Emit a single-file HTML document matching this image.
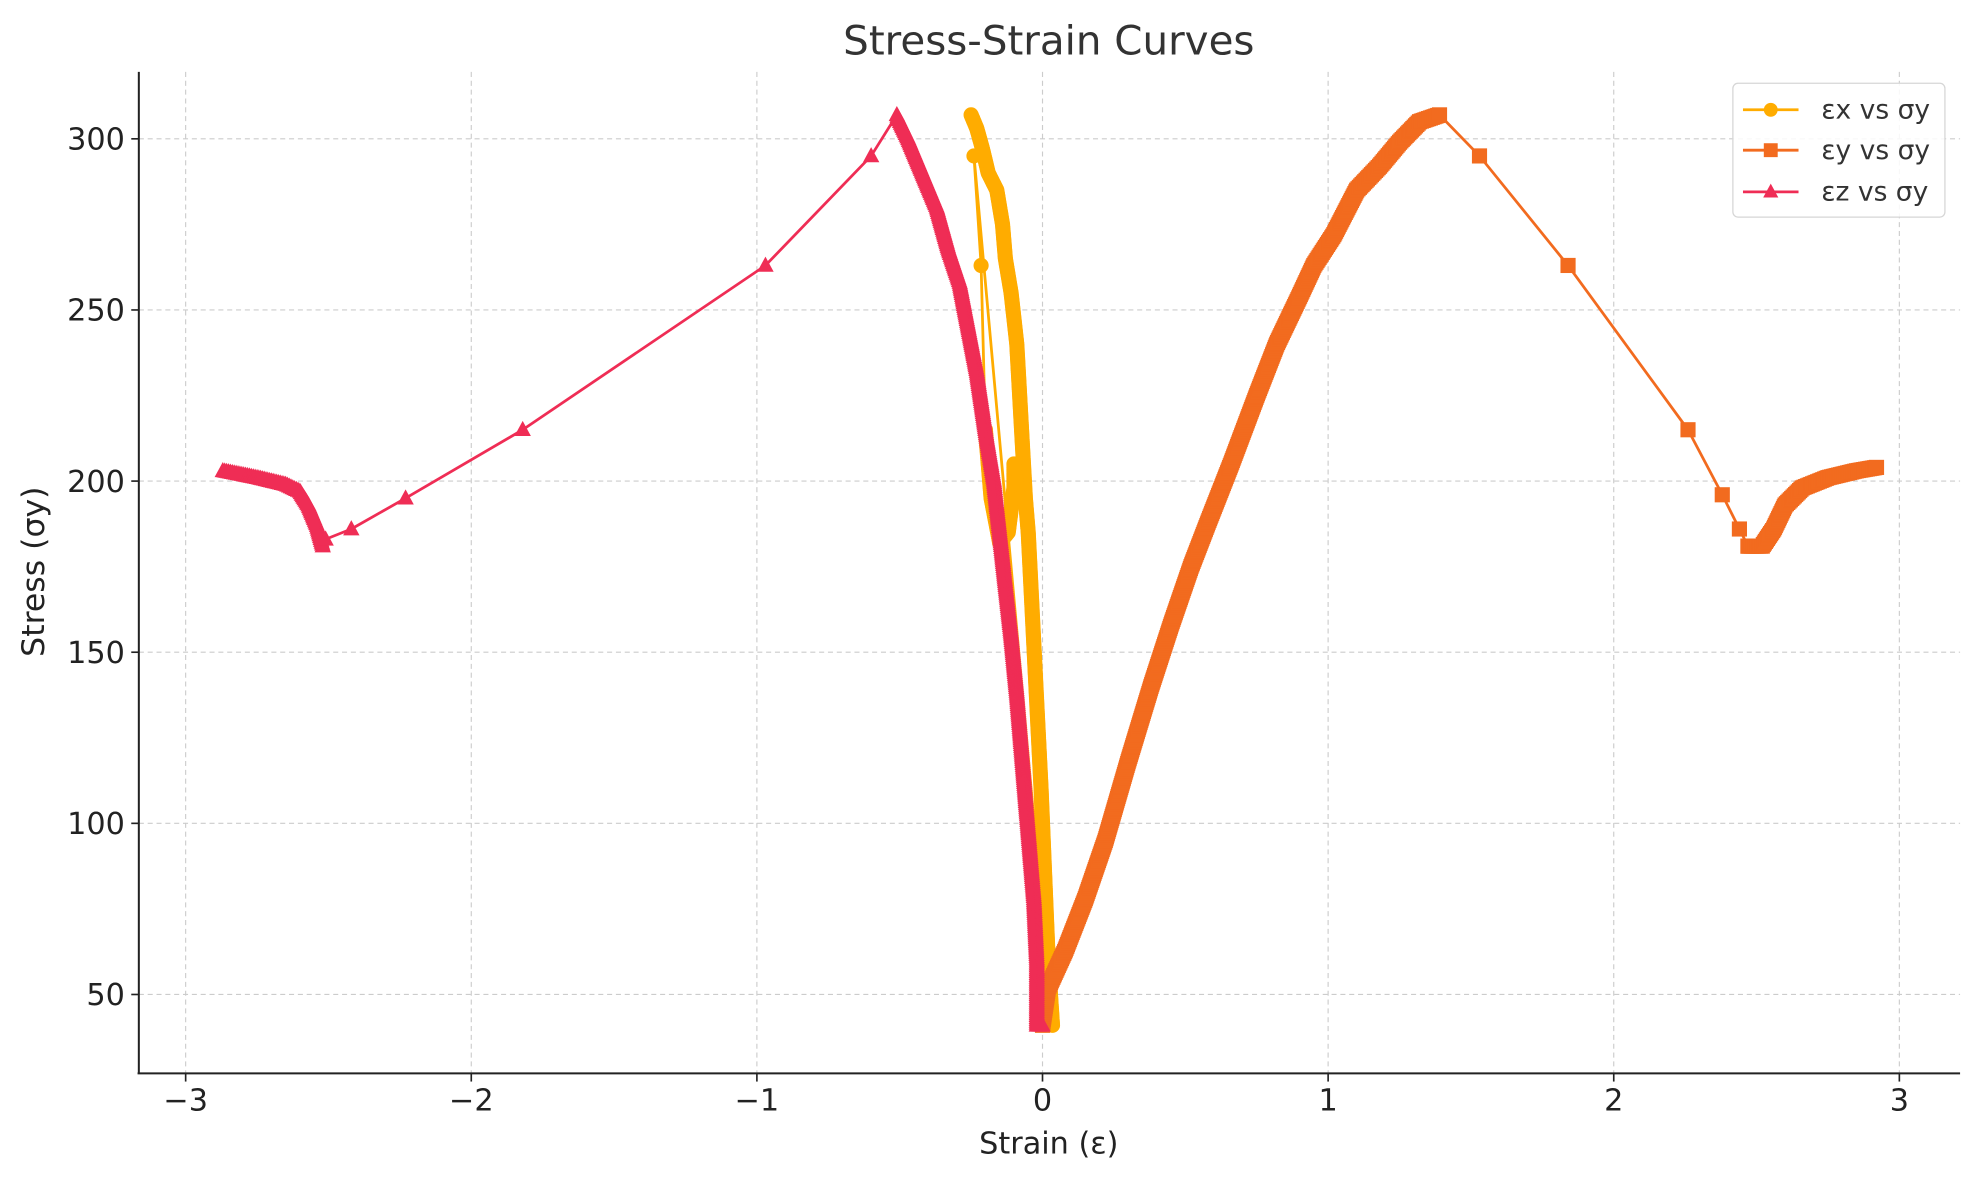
<!DOCTYPE html>
<html><head><meta charset="utf-8"><style>
html,body{margin:0;padding:0;background:#fff;}
svg{display:block;font-family:"DejaVu Sans","Liberation Sans",sans-serif;}
</style></head><body>
<svg id="s" width="1979" height="1180" viewBox="0 0 1568 935" preserveAspectRatio="none" xmlns="http://www.w3.org/2000/svg">
<rect width="1568" height="935" fill="#fff"/>
<g id="grid" stroke="#cccccc" stroke-width="0.9" stroke-dasharray="4,3"></g>
<g id="data"></g>
<g stroke="#222" stroke-width="1.6" fill="none">
<line x1="110" y1="57" x2="110" y2="851"/>
<line x1="109" y1="850.5" x2="1553" y2="850.5"/>
</g>
<g id="ticks" stroke="#222" stroke-width="1.3"></g>
<g id="labels" font-size="24" fill="#222"></g>
<text x="831" y="43" font-size="32" text-anchor="middle" fill="#333">Stress-Strain Curves</text>
<text x="831" y="914" font-size="24" text-anchor="middle" fill="#222">Strain (ε)</text>
<text transform="translate(35,453) rotate(-90)" font-size="25" text-anchor="middle" fill="#222">Stress (σy)</text>
<g id="legend">
<rect x="1373" y="66" width="168" height="106" rx="4" fill="#fff" fill-opacity="0.85" stroke="#d6d6d6"/>
</g>
</svg>
<script>
const NS="http://www.w3.org/2000/svg";
function el(p,t,a){const e=document.createElementNS(NS,t);for(const k in a)e.setAttribute(k,a[k]);p.appendChild(e);return e;}
const X=e=>826+e*226.3, Y=s=>110+(300-s)*2.712;
const grid=document.getElementById('grid'),ticks=document.getElementById('ticks'),labels=document.getElementById('labels');
for(let i=-3;i<=3;i++){const x=X(i);el(grid,'line',{x1:x,y1:57,x2:x,y2:850});el(ticks,'line',{x1:x,y1:851,x2:x,y2:857});
 const t=el(labels,'text',{x:x,y:880,'text-anchor':'middle'});t.textContent=(i<0?'\u2212'+(-i):''+i);}
for(let v=50;v<=300;v+=50){const y=Y(v);el(grid,'line',{x1:110,y1:y,x2:1553,y2:y});el(ticks,'line',{x1:104,y1:y,x2:110,y2:y});
 const t=el(labels,'text',{x:99,y:y+8.5,'text-anchor':'end'});t.textContent=v;}
const data=document.getElementById('data');
function densify(pts,step){const out=[];for(let i=0;i<pts.length-1;i++){const [x1,y1]=pts[i],[x2,y2]=pts[i+1];const a=[X(x1),Y(y1)],b=[X(x2),Y(y2)];const d=Math.hypot(b[0]-a[0],b[1]-a[1]);const n=Math.max(1,Math.round(d/step));for(let j=0;j<n;j++){const t=j/n;out.push([a[0]+(b[0]-a[0])*t,a[1]+(b[1]-a[1])*t]);}}const l=pts[pts.length-1];out.push([X(l[0]),Y(l[1])]);return out;}
function marker(g,type,x,y,c,r){r=r||5.5;
 if(type==='o')el(g,'circle',{cx:x,cy:y,r:r,fill:c});
 else if(type==='s')el(g,'rect',{x:x-r,y:y-r,width:2*r,height:2*r,fill:c});
 else el(g,'polygon',{points:`${x},${y-r-1} ${x-r-0.5},${y+r-1} ${x+r+0.5},${y+r-1}`,fill:c});}
function series(segs,type,c){const g=el(data,'g',{});let all=[];
 segs.forEach(s=>{const pts=s.dense?densify(s.p,1.5):s.p.map(p=>[X(p[0]),Y(p[1])]);all=all.concat(pts);});
 el(g,'polyline',{points:all.map(p=>p.join(',')).join(' '),fill:'none',stroke:c,'stroke-width':2.2,'stroke-linejoin':'round'});
 all.forEach(p=>marker(g,type,p[0],p[1],c,6));}
const cx='#ffac00',cy='#f26b1f',cz='#ef2d55';
series([{dense:true,p:[[-0.25,307],[-0.23,303],[-0.21,297],[-0.19,290],[-0.16,285],[-0.14,275],[-0.13,265],[-0.11,255],[-0.09,240],[-0.08,225],[-0.07,210],[-0.06,195],[-0.05,185],[-0.035,160],[-0.02,135],[-0.005,110],[0.01,80],[0.02,60],[0.035,41]]},
 {dense:false,p:[[-0.24,295],[-0.215,263],[-0.2,215]]},
 {dense:true,p:[[-0.2,215],[-0.18,195],[-0.15,182],[-0.12,185],[-0.1,198],[-0.1,205],[-0.08,195]]}],'o',cx);
series([{dense:true,p:[[0,41],[0.02,52],[0.08,63],[0.15,78],[0.22,95],[0.3,118],[0.38,140],[0.45,158],[0.52,175],[0.58,188],[0.66,205],[0.75,225],[0.82,240],[0.9,254],[0.95,263],[1.02,272],[1.1,285],[1.18,292],[1.25,299],[1.32,305],[1.39,307]]},
 {dense:false,p:[[1.53,295],[1.84,263],[2.26,215],[2.38,196],[2.44,186],[2.47,181]]},
 {dense:true,p:[[2.47,181],[2.52,181],[2.56,186],[2.6,193],[2.66,198],[2.75,201],[2.85,203],[2.92,204]]}],'s',cy);
series([{dense:true,p:[[-2.87,203],[-2.75,201],[-2.65,199],[-2.6,197],[-2.57,193],[-2.54,187],[-2.52,181]]},
 {dense:false,p:[[-2.51,183],[-2.42,186],[-2.23,195],[-1.82,215],[-0.97,263],[-0.6,295]]},
 {dense:true,p:[[-0.51,307],[-0.47,300],[-0.42,290],[-0.37,280],[-0.33,268],[-0.29,258],[-0.26,245],[-0.23,232],[-0.2,215],[-0.17,200],[-0.15,185],[-0.13,170],[-0.11,155],[-0.09,138],[-0.07,118],[-0.05,98],[-0.03,78],[-0.02,60],[-0.02,41],[0,41]]}],'^',cz);
const lg=document.getElementById('legend');
[[cx,'o','εx vs σy',87],[cy,'s','εy vs σy',119],[cz,'^','εz vs σy',152]].forEach(([c,t,s,y])=>{
 el(lg,'line',{x1:1381,y1:y,x2:1425,y2:y,stroke:c,'stroke-width':2.2});marker(lg,t,1403,y,c,5.5);
 const tx=el(lg,'text',{x:1443,y:y+7,'font-size':21,fill:'#333'});tx.textContent=s;});
</script>
</body></html>
